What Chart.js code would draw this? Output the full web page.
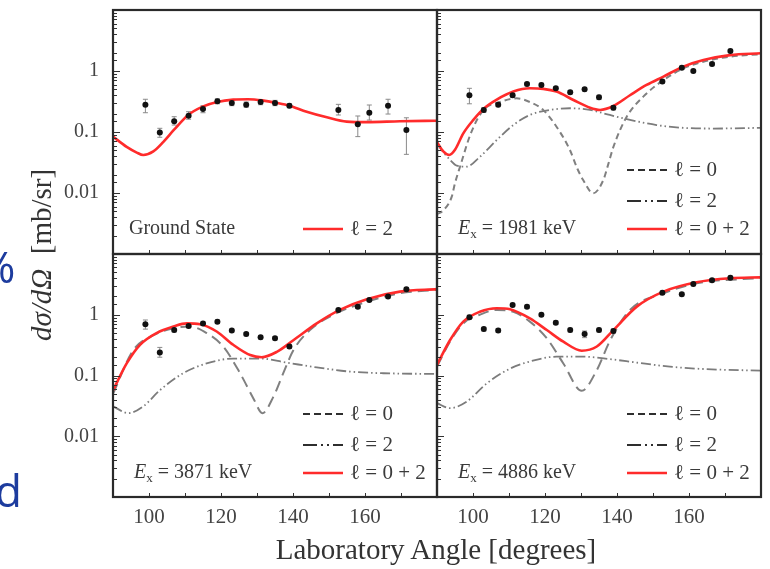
<!DOCTYPE html>
<html>
<head>
<meta charset="utf-8">
<script src="https://cdn.jsdelivr.net/npm/chart.js@4.4.0/dist/chart.umd.min.js"></script>
<style>
  html, body { margin: 0; padding: 0; background: #fff; }
  #stage { position: relative; width: 770px; height: 569px; overflow: hidden; background: #fff; }
  canvas { position: absolute; }
  .txt { position: absolute; white-space: nowrap; font-family: "Liberation Serif", "DejaVu Serif", serif; color: #333; }
  .blue { position: absolute; white-space: nowrap; font-family: "Open Sans", "Noto Sans", sans-serif; color: #1d3c9e; }
</style>
</head>
<body>
<div id="stage">
  <canvas id="tl"></canvas>
  <canvas id="tr"></canvas>
  <canvas id="bl"></canvas>
  <canvas id="br"></canvas>
  <div class="txt" id="ytitle" style="font-size:29px; left:41px; top:255px; transform: translate(-50%, -50%) rotate(-90deg);"><i>dσ/dΩ</i>&nbsp;&nbsp;[mb/sr]</div>
  <div class="txt" style="font-size:29px; left:436px; top:549px; transform: translate(-50%, -50%);">Laboratory Angle [degrees]</div>
  <div class="blue" style="font-size:44px; left:-21px; top:236px;">%</div>
  <div class="blue" style="font-size:44px; left:-5px; top:460px;">d</div>
</div>
<script>
// ---- data ----
const dataAngles = [99, 103, 107, 111, 115, 119, 123, 127, 131, 135, 139, 152.6, 158, 161.2, 166.4, 171.5];

// Ground state
const gsPoints = [0.28, 0.098, 0.15, 0.185, 0.238, 0.32, 0.30, 0.28, 0.31, 0.30, 0.27, 0.23, 0.134, 0.207, 0.27, 0.108];
const gsLo = [0.207, 0.082, 0.13, 0.162, 0.207, 0.29, 0.27, 0.255, 0.28, 0.27, 0.25, 0.19, 0.084, 0.157, 0.197, 0.043];
const gsHi = [0.344, 0.115, 0.178, 0.215, 0.27, 0.35, 0.33, 0.31, 0.34, 0.33, 0.29, 0.284, 0.183, 0.277, 0.344, 0.171];
const gsL2X = [90, 93.8, 96.6, 98.4, 101.2, 104, 106.9, 110.9, 114.9, 118.9, 123.4, 127.5, 131.5, 135.5, 139, 143.8, 149.4, 154.9, 160.5, 169.7, 180];
const gsL2Y = [0.084, 0.057, 0.046, 0.042, 0.048, 0.069, 0.108, 0.19, 0.26, 0.31, 0.34, 0.345, 0.33, 0.30, 0.27, 0.215, 0.174, 0.148, 0.145, 0.15, 0.153];

// Ex = 1981 keV
const e1981Points = [0.40, 0.23, 0.28, 0.40, 0.61, 0.59, 0.52, 0.45, 0.50, 0.37, 0.25, 0.67, 1.13, 1.0, 1.30, 2.13];
const e1981Lo = [0.29, 0.21, 0.26, 0.37, 0.57, 0.55, 0.49, 0.42, 0.47, 0.34, 0.23, 0.63, 1.06, 0.94, 1.22, 2.0];
const e1981Hi = [0.52, 0.25, 0.30, 0.43, 0.65, 0.63, 0.55, 0.48, 0.53, 0.40, 0.27, 0.71, 1.2, 1.06, 1.38, 2.26];
const e1981SumX = [90, 91.75, 93.4, 95, 97.3, 100.1, 103.1, 106.6, 111.2, 115.8, 119.5, 123.2, 127.9, 132.5, 135.3, 139, 143.6, 148.2, 152.9, 158.4, 164, 171.4, 180];
const e1981SumY = [0.068, 0.048, 0.042, 0.051, 0.095, 0.158, 0.245, 0.34, 0.46, 0.52, 0.51, 0.46, 0.335, 0.25, 0.23, 0.267, 0.40, 0.59, 0.81, 1.18, 1.51, 1.82, 1.95];
const e1981L0X = [90, 91.75, 94.1, 95, 96.4, 99.4, 102.9, 107.5, 112.1, 115.8, 119.5, 123.2, 126.9, 129, 130.6, 133.4, 136.2, 137.6, 139, 142.7, 147.3, 152.9, 158.4, 164, 171.4, 180];
const e1981L0Y = [0.0045, 0.0052, 0.0087, 0.0145, 0.027, 0.095, 0.23, 0.31, 0.356, 0.31, 0.23, 0.122, 0.051, 0.025, 0.0163, 0.0099, 0.0163, 0.03, 0.057, 0.178, 0.38, 0.71, 1.1, 1.42, 1.72, 1.88];
const e1981L2X = [90, 92, 93.6, 95.5, 98.2, 101.9, 106.6, 111.2, 115.8, 121.4, 126.9, 132.5, 138, 143.6, 151, 158.4, 166.8, 180];
const e1981L2Y = [0.065, 0.045, 0.035, 0.028, 0.027, 0.039, 0.074, 0.13, 0.19, 0.23, 0.245, 0.23, 0.19, 0.158, 0.13, 0.117, 0.114, 0.117];

// Ex = 3871 keV
const e3871Points = [0.70, 0.24, 0.56, 0.65, 0.72, 0.77, 0.55, 0.48, 0.425, 0.41, 0.30, 1.2, 1.36, 1.75, 2.0, 2.64];
const e3871Lo = [0.58, 0.20, 0.52, 0.61, 0.68, 0.72, 0.52, 0.45, 0.40, 0.385, 0.28, 1.13, 1.28, 1.65, 1.88, 2.48];
const e3871Hi = [0.82, 0.29, 0.60, 0.69, 0.76, 0.82, 0.58, 0.51, 0.45, 0.435, 0.32, 1.27, 1.44, 1.85, 2.12, 2.8];
const e3871SumX = [90, 93.8, 97.5, 102.1, 106.8, 110.5, 114.2, 118.8, 123.4, 128.1, 131.3, 135.5, 140.1, 146.6, 153, 160.5, 169.7, 180];
const e3871SumY = [0.057, 0.158, 0.32, 0.50, 0.64, 0.72, 0.70, 0.53, 0.32, 0.217, 0.20, 0.245, 0.38, 0.72, 1.2, 1.8, 2.4, 2.64];
const e3871L0X = [90, 95.6, 101.2, 106.8, 111.4, 116, 120.6, 125.3, 129, 131.5, 134.5, 137.3, 140.1, 144.7, 151.2, 160.5, 169.7, 180];
const e3871L0Y = [0.05, 0.26, 0.46, 0.60, 0.64, 0.50, 0.30, 0.109, 0.042, 0.024, 0.044, 0.109, 0.26, 0.56, 1.0, 1.64, 2.26, 2.57];
const e3871L2X = [90, 94.3, 98.4, 103, 109.5, 116, 123.4, 130.8, 138.2, 146.6, 155.8, 165.1, 180];
const e3871L2Y = [0.031, 0.024, 0.031, 0.057, 0.109, 0.158, 0.19, 0.19, 0.163, 0.136, 0.116, 0.109, 0.106];

// Ex = 4886 keV
const e4886Points = [0.91, 0.58, 0.55, 1.45, 1.36, 1.0, 0.74, 0.56, 0.48, 0.56, 0.54, 2.3, 2.17, 3.2, 3.7, 4.07];
const e4886Lo = [0.84, 0.54, 0.51, 1.36, 1.28, 0.94, 0.69, 0.52, 0.42, 0.52, 0.50, 2.16, 2.04, 3.0, 3.48, 3.82];
const e4886Hi = [0.98, 0.62, 0.59, 1.54, 1.44, 1.06, 0.79, 0.60, 0.54, 0.60, 0.58, 2.44, 2.3, 3.4, 3.92, 4.32];
const e4886SumX = [90, 93.6, 97.3, 101.9, 106.6, 110.3, 115.8, 120.5, 125.1, 130.2, 134.4, 139, 145.5, 152.9, 162.1, 171.4, 180];
const e4886SumY = [0.15, 0.38, 0.77, 1.12, 1.28, 1.23, 0.87, 0.56, 0.36, 0.256, 0.30, 0.56, 1.36, 2.4, 3.42, 3.98, 4.13];
const e4886L0X = [90, 93.6, 97.3, 101.9, 106.6, 111.2, 115.8, 120.5, 125.1, 130.2, 134.4, 138.1, 143.6, 152.9, 162.1, 180];
const e4886L0Y = [0.14, 0.36, 0.72, 1.0, 1.2, 1.12, 0.77, 0.41, 0.158, 0.056, 0.123, 0.38, 1.2, 2.26, 3.29, 4.03];
const e4886L2X = [90, 93.6, 98.2, 103.8, 110.3, 115.8, 123.2, 130.6, 138.1, 145.5, 154.7, 163.9, 180];
const e4886L2Y = [0.035, 0.029, 0.037, 0.074, 0.13, 0.17, 0.204, 0.204, 0.186, 0.163, 0.14, 0.128, 0.12];

const xTicksMin = 90, xTicksMax = 180, xStep = 10;
const yMin = 0.001, yMax = 10;
const yLabelled = [1, 0.1, 0.01];

// ---- helpers ----
const SERIF = '"Liberation Serif", "DejaVu Serif", serif';
const pts = (xs, ys) => xs.map((x, i) => ({ x, y: ys[i] }));

function pointsSet(ys, lo, hi) {
  return {
    label: 'data', data: pts(dataAngles, ys), errLo: lo, errHi: hi,
    showLine: false, pointRadius: 3, pointBackgroundColor: '#111', pointBorderWidth: 0
  };
}
function sumSet(xs, ys, label) {
  return { label, data: pts(xs, ys), showLine: true, pointRadius: 0, borderColor: '#ff2b2b',
    borderWidth: 2.6, cubicInterpolationMode: 'monotone' };
}
function l0Set(xs, ys, dash) {
  return { label: 'ℓ = 0', data: pts(xs, ys), showLine: true, pointRadius: 0, borderColor: '#808080',
    borderWidth: 2, borderDash: dash, cubicInterpolationMode: 'monotone', legendDash: [7, 4] };
}
function l2Set(xs, ys) {
  return { label: 'ℓ = 2', data: pts(xs, ys), showLine: true, pointRadius: 0, borderColor: '#7c7c7c',
    borderWidth: 1.8, borderDash: [10, 3, 1.5, 3, 1.5, 3], cubicInterpolationMode: 'monotone',
    legendDash: [14, 4, 2, 4, 2, 4] };
}

// error bars, drawn under the markers
const errorBars = {
  id: 'errorBars',
  beforeDatasetsDraw(chart) {
    const { ctx, scales: { x, y } } = chart;
    ctx.save();
    ctx.strokeStyle = '#8a8a8a';
    ctx.lineWidth = 1;
    chart.data.datasets.forEach(ds => {
      if (!ds.errLo) return;
      ds.data.forEach((p, i) => {
        const px = x.getPixelForValue(p.x);
        const y1 = y.getPixelForValue(ds.errLo[i]), y2 = y.getPixelForValue(ds.errHi[i]);
        ctx.beginPath();
        ctx.moveTo(px, y1); ctx.lineTo(px, y2);
        ctx.moveTo(px - 2.5, y1); ctx.lineTo(px + 2.5, y1);
        ctx.moveTo(px - 2.5, y2); ctx.lineTo(px + 2.5, y2);
        ctx.stroke();
      });
    });
    ctx.restore();
  }
};

// frame and inward ticks
const frame = {
  id: 'frame',
  afterDraw(chart) {
    const { ctx, chartArea: a, scales } = chart;
    ctx.save();
    ctx.strokeStyle = '#333';
    ctx.lineWidth = 1;
    scales.y.ticks.forEach(t => {
      const py = Math.round(scales.y.getPixelForValue(t.value)) + 0.5;
      if (py <= a.top + 2 || py >= a.bottom - 2) return;
      const lg = Math.log10(t.value);
      const len = Math.abs(lg - Math.round(lg)) < 1e-6 ? 7 : 4;
      ctx.beginPath(); ctx.moveTo(a.left, py); ctx.lineTo(a.left + len, py); ctx.stroke();
    });
    scales.x.ticks.forEach(t => {
      const px = Math.round(scales.x.getPixelForValue(t.value)) + 0.5;
      if (px <= a.left + 2 || px >= a.right - 2) return;
      ctx.beginPath(); ctx.moveTo(px, a.bottom); ctx.lineTo(px, a.bottom - 4); ctx.stroke();
    });
    ctx.lineWidth = 2.2;
    ctx.strokeStyle = '#2a2a2a';
    ctx.strokeRect(a.left, a.top, a.right - a.left, a.bottom - a.top);
    ctx.restore();
  }
};

// panel label and legend inside the frame
const notes = {
  id: 'notes',
  afterDatasetsDraw(chart, args, opts) {
    const { ctx, chartArea: a } = chart;
    ctx.save();
    ctx.fillStyle = '#3a3a3a';
    ctx.textBaseline = 'middle';
    const ly = a.top + 219;
    if (opts.title) {
      ctx.font = '20px ' + SERIF;
      ctx.fillText(opts.title, a.left + 16, ly);
    } else if (opts.energy) {
      let x = a.left + 21;
      ctx.font = 'italic 20px ' + SERIF;
      ctx.fillText('E', x, ly);
      x += ctx.measureText('E').width;
      ctx.font = '13px ' + SERIF;
      ctx.fillText('x', x, ly + 6);
      x += ctx.measureText('x').width;
      ctx.font = '20px ' + SERIF;
      ctx.fillText(' = ' + opts.energy + ' keV', x, ly);
    }
    const rows = [a.top + 160, a.top + 191, a.top + 219];
    const items = opts.items.slice();
    const start = rows.length - items.length;
    items.forEach((idx, k) => {
      const ds = chart.data.datasets[idx];
      const y = rows[start + k];
      const red = ds.borderColor === '#ff2b2b';
      ctx.strokeStyle = red ? '#ff2b2b' : '#2e2e2e';
      ctx.lineWidth = red ? 2.6 : 2.2;
      ctx.setLineDash(ds.legendDash || []);
      ctx.beginPath(); ctx.moveTo(a.left + 190, y); ctx.lineTo(a.left + 230, y); ctx.stroke();
      ctx.setLineDash([]);
      ctx.font = '21px ' + SERIF;
      ctx.fillText(ds.label, a.left + 237, y);
    });
    ctx.restore();
  }
};

function noPad(s) {
  s.paddingTop = 0; s.paddingBottom = 0; s.paddingLeft = 0; s.paddingRight = 0;
}

function makePanel(id, col, row, datasets, notesOpts) {
  const areaLeft = col === 0 ? 113 : 437;
  const areaTop = row === 0 ? 10 : 254;
  const areaW = 324, areaH = row === 0 ? 244 : 243;
  const padL = col === 0 ? 113 : 6, pad = 6, padB = row === 1 ? 50 : 6;
  const cv = document.getElementById(id);
  cv.width = areaW + padL + pad; cv.height = areaH + pad + padB;
  cv.style.left = (areaLeft - padL) + 'px'; cv.style.top = (areaTop - pad) + 'px';
  cv.style.width = cv.width + 'px'; cv.style.height = cv.height + 'px';
  return new Chart(cv, {
    type: 'scatter',
    data: { datasets },
    plugins: [errorBars, frame, notes],
    options: {
      responsive: false, animation: false, events: [], devicePixelRatio: 1,
      layout: { padding: { left: 6, top: pad, right: pad, bottom: 6 } },
      plugins: { legend: { display: false }, tooltip: { enabled: false }, notes: notesOpts },
      scales: {
        x: {
          type: 'linear', min: xTicksMin, max: xTicksMax,
          grid: { display: false, drawTicks: false }, border: { display: false },
          afterFit: s => { s.height = row === 1 ? padB - 6 : 0; noPad(s); },
          ticks: {
            display: row === 1, stepSize: xStep, autoSkip: false, maxRotation: 0, padding: 8,
            color: '#444', font: { family: SERIF, size: 21 },
            callback: v => (v % 20 === 0 && v > xTicksMin && v < xTicksMax) ? String(v) : ''
          }
        },
        y: {
          type: 'logarithmic', min: yMin, max: yMax,
          grid: { display: false, drawTicks: false }, border: { display: false },
          afterFit: s => { s.width = col === 0 ? padL - 6 : 0; noPad(s); },
          ticks: {
            display: col === 0, autoSkip: false, padding: 14,
            color: '#444', font: { family: SERIF, size: 20 },
            callback: v => {
              const hit = yLabelled.find(l => Math.abs(Math.log10(v) - Math.log10(l)) < 1e-6);
              return hit !== undefined ? String(hit) : '';
            }
          }
        }
      }
    }
  });
}

makePanel('tl', 0, 0, [
  pointsSet(gsPoints, gsLo, gsHi),
  sumSet(gsL2X, gsL2Y, 'ℓ = 2')
], { title: 'Ground State', items: [1] });

makePanel('tr', 1, 0, [
  pointsSet(e1981Points, e1981Lo, e1981Hi),
  sumSet(e1981SumX, e1981SumY, 'ℓ = 0 + 2'),
  l0Set(e1981L0X, e1981L0Y, [6, 4]),
  l2Set(e1981L2X, e1981L2Y)
], { energy: '1981', items: [2, 3, 1] });

makePanel('bl', 0, 1, [
  pointsSet(e3871Points, e3871Lo, e3871Hi),
  sumSet(e3871SumX, e3871SumY, 'ℓ = 0 + 2'),
  l0Set(e3871L0X, e3871L0Y, [11, 6]),
  l2Set(e3871L2X, e3871L2Y)
], { energy: '3871', items: [2, 3, 1] });

makePanel('br', 1, 1, [
  pointsSet(e4886Points, e4886Lo, e4886Hi),
  sumSet(e4886SumX, e4886SumY, 'ℓ = 0 + 2'),
  l0Set(e4886L0X, e4886L0Y, [11, 6]),
  l2Set(e4886L2X, e4886L2Y)
], { energy: '4886', items: [2, 3, 1] });
</script>
</body>
</html>
